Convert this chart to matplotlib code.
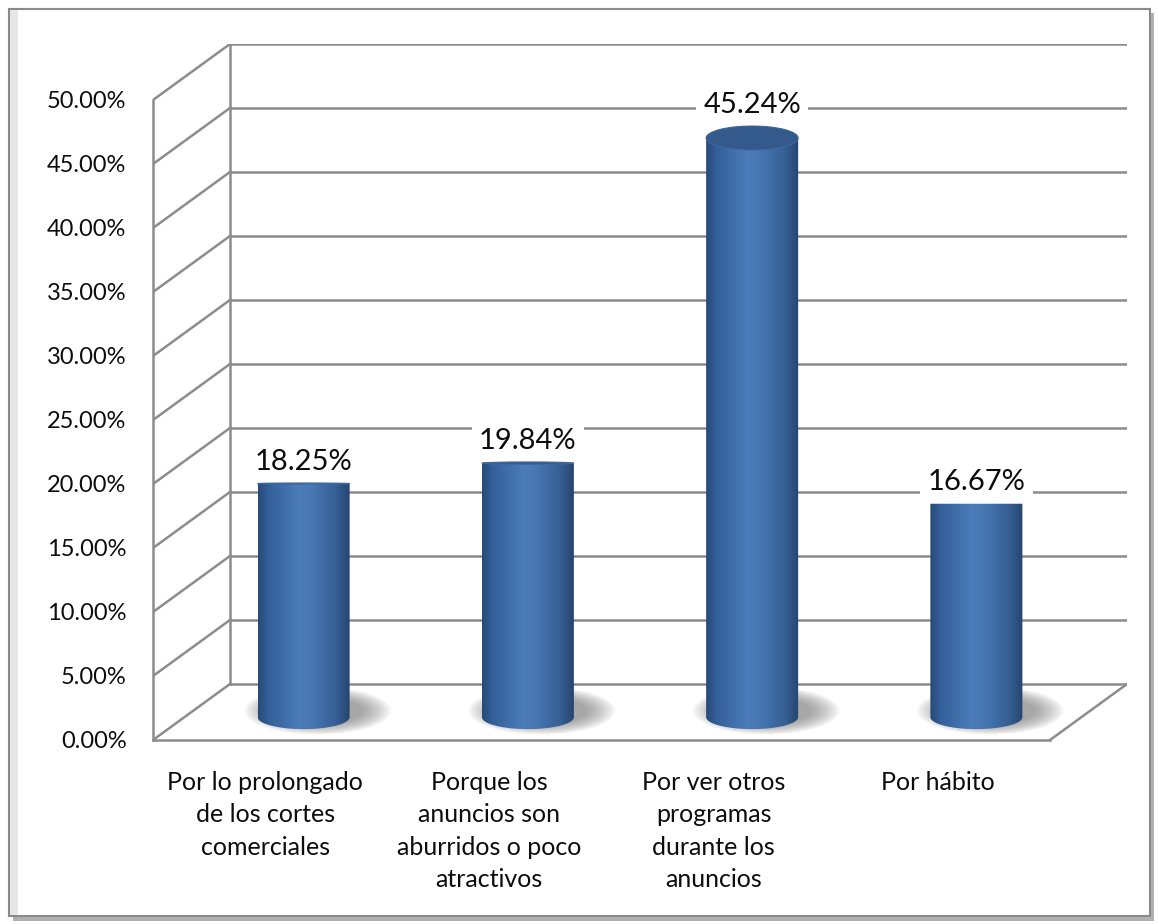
import numpy as np
import matplotlib
matplotlib.use("Agg")
import matplotlib.pyplot as plt
from matplotlib.patches import Ellipse, Rectangle, Polygon
from matplotlib.colors import LinearSegmentedColormap

# ---- data ----
categories = [
    "Por lo prolongado\nde los cortes\ncomerciales",
    "Porque los\nanuncios son\naburridos o poco\natractivos",
    "Por ver otros\nprogramas\ndurante los\nanuncios",
    "Por hábito",
]
values = [18.25, 19.84, 45.24, 16.67]
value_labels = ["18.25%", "19.84%", "45.24%", "16.67%"]
yticks = [0, 5, 10, 15, 20, 25, 30, 35, 40, 45, 50]
ytick_labels = ["0.00%", "5.00%", "10.00%", "15.00%", "20.00%", "25.00%",
                "30.00%", "35.00%", "40.00%", "45.00%", "50.00%"]

plt.rcParams['font.family'] = ['Lato', 'DejaVu Sans']

W, H = 1158, 924
fig = plt.figure(figsize=(W / 100, H / 100), dpi=100)
fig.patch.set_facecolor('white')

# chart frame with shadow (background axes)
bg = fig.add_axes([0, 0, 1, 1], zorder=0)
bg.set_xlim(0, W)
bg.set_ylim(H, 0)
bg.axis('off')
bg.add_patch(Rectangle((13, 13), 1141, 908, facecolor='#b0b0b0', edgecolor='none'))
bg.add_patch(Rectangle((9, 9), 1141, 907, facecolor='white', edgecolor='#8a8a8a', linewidth=1.5))
bg.add_patch(Rectangle((10, 10), 8, 905, facecolor='#e6e6e6', edgecolor='none'))

# axes: front-left corner of floor at (153,740); back wall top-right at (1127,44)
ax = fig.add_axes([153 / W, (H - 740) / H, 974 / W, 696 / H], zorder=2)
ncat = len(categories)
depth_dx = 77 / 224.25          # depth offset in category units
depth_dy = 56 / 12.8            # depth offset in percent units
ymax = 50
ax.set_facecolor('none')

grid_c = '#8c8c8c'
lw = 1.8
# walls
for v in yticks:
    ax.plot([0, depth_dx], [v, v + depth_dy], color=grid_c, lw=lw, zorder=1, solid_capstyle='butt')
    ax.plot([depth_dx, ncat + depth_dx], [v + depth_dy, v + depth_dy], color=grid_c, lw=lw, zorder=1)
ax.plot([depth_dx, depth_dx], [depth_dy, ymax + depth_dy], color=grid_c, lw=lw, zorder=1)
ax.plot([ncat, ncat + depth_dx], [0, depth_dy], color=grid_c, lw=lw, zorder=1)

for s in ['top', 'right']:
    ax.spines[s].set_visible(False)
ax.spines['left'].set_bounds(0, ymax)
ax.spines['bottom'].set_bounds(0, ncat)
for s in ['left', 'bottom']:
    ax.spines[s].set_color(grid_c)
    ax.spines[s].set_linewidth(lw)

ax.set_yticks(yticks)
ax.set_yticklabels(ytick_labels, fontsize=17, color='#0d0d0d')
ax.tick_params(axis='y', length=0, pad=19)
ax.set_xticks(np.arange(ncat) + 0.5)
ax.set_xticklabels(categories, fontsize=18, color='#0d0d0d', linespacing=1.5, va='top')
ax.tick_params(axis='x', length=0, pad=22)

# cylinders
px_per_x = 224.25
px_per_y = 12.8
bar_w = 92 / px_per_x
base_eh = 24 / px_per_y
cmap = LinearSegmentedColormap.from_list('cyl', [
    (0.0, '#284a77'), (0.12, '#34609a'), (0.45, '#4b7dba'), (0.58, '#4878b4'),
    (0.85, '#365f94'), (1.0, '#26456f')])
grad = np.linspace(0, 1, 256).reshape(1, -1)
eye = 17.0

for i, v in enumerate(values):
    cx = i + 0.5 + depth_dx / 2
    by = depth_dy / 2 - 0.4
    ty = v + by
    top_eh = max(0.0, (v - eye)) * 0.85 / px_per_y
    # soft shadow
    for a in np.linspace(1.0, 0.0, 26):
        ax.add_patch(Ellipse((cx + 14 / px_per_x, by + 0.5), bar_w * (0.95 + 0.65 * a),
                             (26 + 22 * a) / px_per_y,
                             facecolor='#7a7a7a', edgecolor='none', alpha=0.035, zorder=2))
    # body path
    t = np.linspace(np.pi, 2 * np.pi, 60)
    bot = np.column_stack([cx + bar_w / 2 * np.cos(t), by + base_eh / 2 * np.sin(t)])
    t2 = np.linspace(0, np.pi, 60)
    top = np.column_stack([cx + bar_w / 2 * np.cos(t2), ty + top_eh / 2 * np.sin(t2)])
    verts = np.vstack([bot, top, bot[:1]])
    poly = Polygon(verts, closed=True, facecolor='none', edgecolor='none', zorder=3)
    ax.add_patch(poly)
    im = ax.imshow(grad, cmap=cmap, aspect='auto', zorder=3,
                   extent=[cx - bar_w / 2, cx + bar_w / 2, by - base_eh, ty + top_eh + 1])
    im.set_clip_path(poly)
    if top_eh > 0.05:
        ax.add_patch(Ellipse((cx, ty), bar_w, top_eh, facecolor='#34598b', edgecolor='#3f689e',
                             lw=0.8, zorder=4))
    ax.annotate(value_labels[i], (cx, ty + top_eh / 2), xytext=(0, 6), textcoords='offset points',
                ha='center', va='bottom', fontsize=21, color='#0d0d0d', zorder=6,
                bbox=dict(boxstyle='square,pad=0.25', facecolor='white', edgecolor='none'))

ax.set_xlim(0, ncat + depth_dx)
ax.set_ylim(0, ymax + depth_dy)

fig.savefig('out.png', dpi=100, facecolor='white')
